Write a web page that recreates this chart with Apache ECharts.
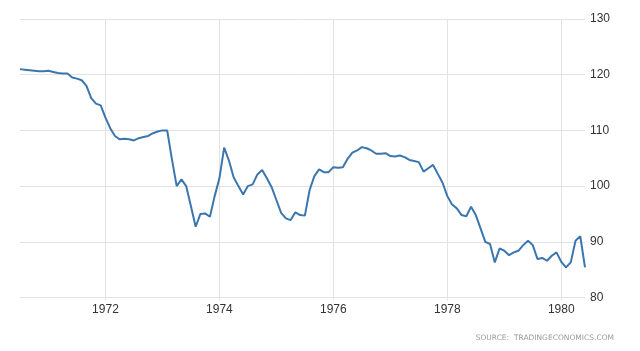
<!DOCTYPE html>
<html>
<head>
<meta charset="utf-8">
<script src="https://cdn.jsdelivr.net/npm/echarts@6/dist/echarts.min.js"></script>
<style>
    html, body { margin: 0; padding: 0; background: #fff; }
    #chart { width: 640px; height: 351px; }
</style>
</head>
<body>
<div id="chart"></div>
<script>
// monthly values, Jul 1970 .. Jun 1980
var startYear = 1970;
var startMonth = 7;
var values = [
    121.0, 120.9, 120.8, 120.7, 120.6, 120.6, 120.7, 120.5, 120.3, 120.2, 120.2, 119.5,
    119.3, 119.0, 118.0, 115.8, 114.8, 114.5, 112.3, 110.4, 109.0, 108.4, 108.5, 108.4,
    108.2, 108.6, 108.8, 109.0, 109.5, 109.8, 110.0, 110.0, 104.8, 100.0, 101.2, 100.0,
    96.4, 92.7, 95.0, 95.1, 94.5, 98.2, 101.4, 106.9, 104.6, 101.6, 100.0, 98.5,
    100.0, 100.3, 102.1, 102.9, 101.4, 99.8, 97.5, 95.2, 94.2, 93.9, 95.3, 94.8,
    94.7, 99.3, 101.8, 103.0, 102.5, 102.5, 103.4, 103.3, 103.4, 104.9, 106.0, 106.4,
    107.0, 106.8, 106.4, 105.8, 105.8, 105.9, 105.4, 105.3, 105.5, 105.2, 104.7, 104.5,
    104.3, 102.6, 103.2, 103.8, 102.2, 100.6, 98.2, 96.7, 96.0, 94.8, 94.6, 96.3,
    94.8, 92.4, 90.0, 89.6, 86.3, 88.8, 88.4, 87.6, 88.1, 88.4, 89.4, 90.2,
    89.4, 86.9, 87.1, 86.6, 87.5, 88.1, 86.4, 85.4, 86.3, 90.2, 91.0, 85.4
];
var yTicks = [80, 90, 100, 110, 120, 130];
var labelYears = ['1972', '1974', '1976', '1978', '1980'];

var months = [];
for (var i = 0; i < values.length; i++) {
    var m = startMonth - 1 + i;
    var y = startYear + Math.floor(m / 12);
    var mm = (m % 12) + 1;
    months.push(y + '-' + (mm < 10 ? '0' + mm : mm));
}

function isYearTick(index, value) {
    return labelYears.indexOf(value.slice(0, 4)) >= 0 && value.slice(5) === '01';
}

var myChart = echarts.init(document.getElementById('chart'));
var option = {
    animation: false,
    title: {
        text: 'SOURCE:  TRADINGECONOMICS.COM',
        right: 21,
        bottom: 4,
        textStyle: {
            fontSize: 7.5,
            fontWeight: 'normal',
            color: '#9a9a9a',
            fontFamily: 'DejaVu Sans'
        }
    },
    grid: {
        left: 20,
        right: 55,
        top: 19,
        bottom: 53.5
    },
    xAxis: {
        type: 'category',
        data: months,
        boundaryGap: false,
        axisLine: { show: false },
        axisTick: {
            show: true,
            interval: isYearTick,
            length: 3,
            lineStyle: { color: '#e3e3e3' }
        },
        axisLabel: {
            interval: isYearTick,
            formatter: function (v) { return v.slice(0, 4); },
            color: '#333',
            fontSize: 12,
            fontFamily: 'Liberation Sans',
            margin: 6
        },
        splitLine: {
            show: true,
            interval: isYearTick,
            lineStyle: { color: '#e3e3e3' }
        }
    },
    yAxis: {
        type: 'value',
        position: 'right',
        min: yTicks[0],
        max: yTicks[yTicks.length - 1],
        interval: 10,
        axisLine: { show: false },
        axisTick: { show: false },
        axisLabel: {
            color: '#333',
            fontSize: 12,
            fontFamily: 'Liberation Sans',
            margin: 5
        },
        splitLine: { lineStyle: { color: '#e3e3e3' } }
    },
    series: [
        {
            type: 'line',
            data: values,
            symbol: 'none',
            lineStyle: { color: '#3b76ae', width: 2 }
        }
    ]
};
myChart.setOption(option);
</script>
</body>
</html>
